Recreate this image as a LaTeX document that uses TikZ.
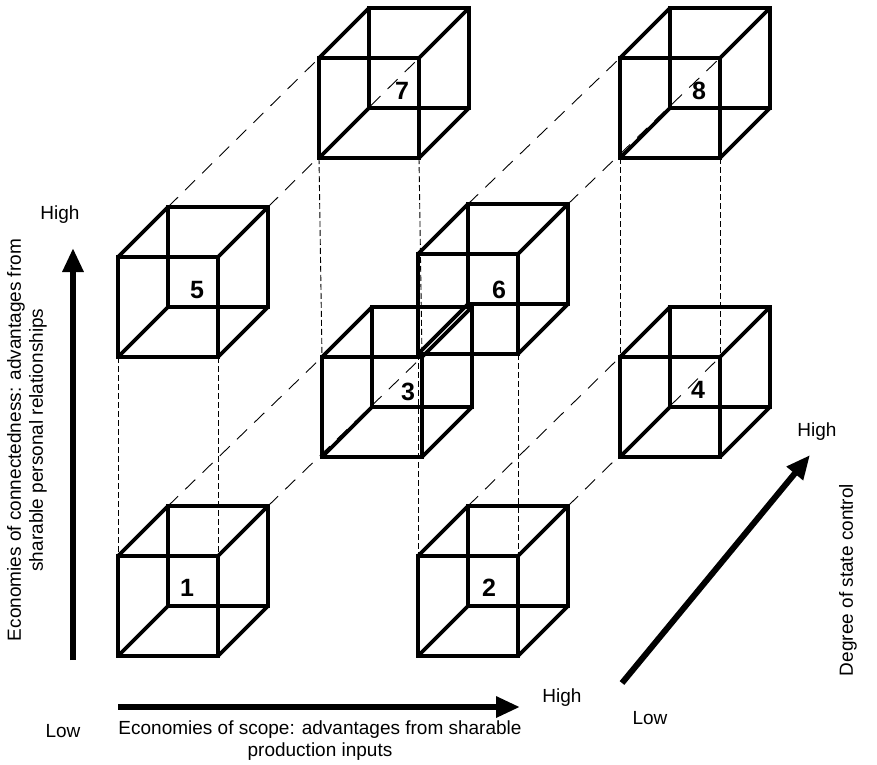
\documentclass[tikz,border=0pt]{standalone}
\usepackage{fontspec}
\setmainfont{Liberation Sans}
\usetikzlibrary{arrows.meta}

% cube given by name and front top left corner
\newcommand{\drawcube}[3]{%
  \coordinate (#1-ftl) at (#2,#3);
  \coordinate (#1-ftr) at (#2+100,#3);
  \coordinate (#1-fbl) at (#2,#3+100);
  \coordinate (#1-fbr) at (#2+100,#3+100);
  \coordinate (#1-btl) at (#2+50,#3-50);
  \coordinate (#1-btr) at (#2+150,#3-50);
  \coordinate (#1-bbl) at (#2+50,#3+50);
  \coordinate (#1-bbr) at (#2+150,#3+50);
  \draw[cubeline] (#1-btl) rectangle (#1-bbr);
  \draw[cubeline] (#1-ftl) -- (#1-btl) (#1-ftr) -- (#1-btr)
                  (#1-fbl) -- (#1-bbl) (#1-fbr) -- (#1-bbr);
  \draw[cubeline] (#1-ftl) rectangle (#1-fbr);
}

\begin{document}
\begin{tikzpicture}[x=1pt,y=-1pt]
  \tikzstyle{cubeline}=[line width=3.8pt];
  \tikzstyle{vdash}=[line width=0.9pt, dash pattern=on 6pt off 3pt];
  \tikzstyle{ddash}=[line width=0.9pt, dash pattern=on 14pt off 10pt];
  \tikzstyle{axisarrow}=[line width=6pt, -{Triangle[length=24pt,width=20pt]}];
  \tikzstyle{numlabel}=[font=\fontsize{25}{30}\selectfont\bfseries, inner sep=0pt];
  \tikzstyle{axislabel}=[font=\fontsize{19}{22}\selectfont, inner sep=0pt];
  \useasboundingbox (0,0) rectangle (877,764);

  \drawcube{c1}{118}{556}
  \drawcube{c2}{418}{556}
  \drawcube{c3}{322}{357}
  \drawcube{c4}{620}{357}
  \drawcube{c5}{118}{257}
  \drawcube{c6}{418}{254}
  \drawcube{c7}{319}{58}
  \drawcube{c8}{620}{58}

  % vertical guides
  \draw[vdash] (c5-fbl) -- (c1-ftl) (c5-fbr) -- (c1-ftr);
  \draw[vdash] (c7-fbl) -- (c3-ftl) (c7-fbr) -- (c3-ftr);
  \draw[vdash] (c6-fbl) -- (c2-ftl) (c6-fbr) -- (c2-ftr);
  \draw[vdash] (c8-fbl) -- (c4-ftl) (c8-fbr) -- (c4-ftr);
  % depth guides
  \draw[ddash] (c1-btl) -- (c3-ftl) (c1-btr) -- (c3-ftr);
  \draw[ddash] (c5-btl) -- (c7-ftl) (c5-btr) -- (c7-ftr);
  \draw[ddash] (c2-btl) -- (c4-ftl) (c2-btr) -- (c4-ftr);
  \draw[ddash] (c6-btl) -- (c8-ftl) (c6-btr) -- (c8-ftr);

  \node[numlabel] (n1) at (187,588) {1};
  \node[numlabel] (n2) at (489,588) {2};
  \node[numlabel] (n3) at (408,392) {3};
  \node[numlabel] (n4) at (698,390) {4};
  \node[numlabel] (n5) at (197,290) {5};
  \node[numlabel] (n6) at (499,290) {6};
  \node[numlabel] (n7) at (402,91) {7};
  \node[numlabel] (n8) at (699,91) {8};

  % axes
  \coordinate (conn-lo) at (73,660);
  \coordinate (conn-hi) at (73,248);
  \coordinate (scope-lo) at (118,707);
  \coordinate (scope-hi) at (520,707);
  \coordinate (state-lo) at (622,683);
  \coordinate (state-hi) at (810,455);
  \draw[axisarrow] (conn-lo) -- (conn-hi);
  \draw[axisarrow] (scope-lo) -- (scope-hi);
  \draw[axisarrow] (state-lo) -- (state-hi);

  \node[axislabel] (connhigh) at (60,215) {High};
  \node[axislabel] (low) at (63,731) {Low};
  \node[axislabel] (scopehigh) at (562,698) {High};
  \node[axislabel] (statelow) at (650,718) {Low};
  \node[axislabel] (statehigh) at (817,432) {High};
  \node[axislabel, align=center] (scopetext) at (320,741)
    {Economies of scope: advantages from sharable\\production inputs};
  \node[axislabel, align=center, rotate=90] (conntext) at (27,440)
    {Economies of connectedness: advantages from\\sharable personal relationships};
  \node[axislabel, rotate=90] (statetext) at (848,580) {Degree of state control};
\end{tikzpicture}
\end{document}
